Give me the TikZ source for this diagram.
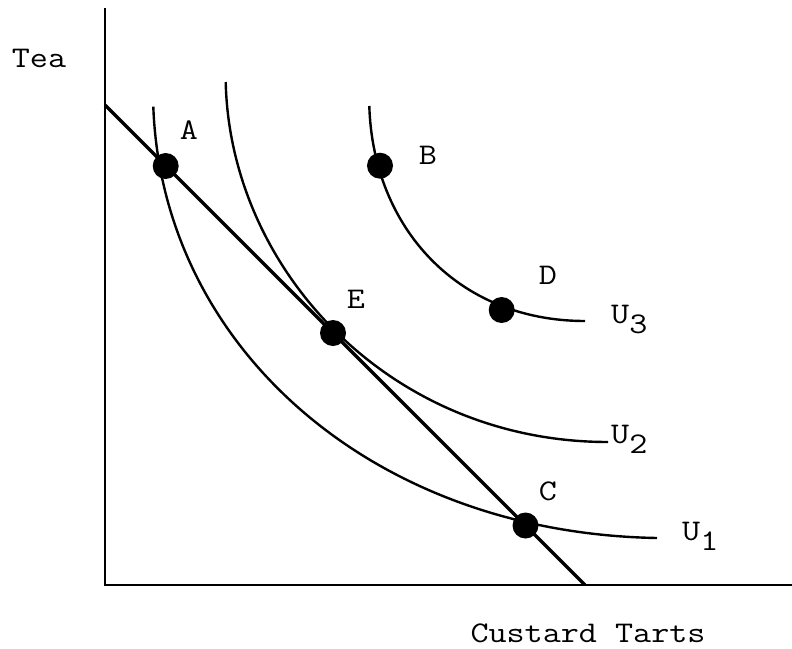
\documentclass[tikz,border=0pt]{standalone}
\usetikzlibrary{positioning}
\newcommand{\wide}[1]{\scalebox{1.17}[1]{#1}}
\newcommand{\ulabel}[1]{\wide{U\raisebox{-10pt}{#1}}}

\begin{document}
\begin{tikzpicture}[
  x=1pt,y=-1pt,
  axis/.style={line width=2.3pt},
  budget/.style={line width=3.5pt},
  indiff/.style={line width=2.4pt},
  bundle/.style={circle,fill=black,inner sep=0pt,minimum size=26pt},
  lbl/.style={font=\ttfamily\fontsize{30}{36}\selectfont,inner sep=0pt}
]
\useasboundingbox (0,0) rectangle (792,648);
% axes
\coordinate (ytop) at (105,8);
\coordinate (origin) at (105,585);
\coordinate (xend) at (792,585);
\draw[axis] (ytop) -- (origin) -- (xend);
\node[lbl] (tea) at (39,58) {\wide{Tea}};
\node[lbl] (tarts) at (588,633) {\wide{Custard Tarts}};
% budget line
\coordinate (bstart) at (105,105);
\coordinate (bend) at (585,585);
\draw[budget] (bstart) -- (bend);
% indifference curves
\coordinate (u1top) at (153.3,106.7);
\coordinate (u1end) at (657,538);
\coordinate (u2top) at (225.7,82);
\coordinate (u2end) at (608,442);
\coordinate (u3top) at (369.3,106);
\coordinate (u3end) at (585,321);
\draw[indiff] (u1top) .. controls (162,345) and (370,533) .. (u1end);
\draw[indiff] (u2top) .. controls (230,270) and (390,442) .. (u2end);
\draw[indiff] (u3top) .. controls (373,228) and (458,321) .. (u3end);
\node[lbl,anchor=base west] (u3) at (611,323) {\ulabel{3}};
\node[lbl,anchor=base west] (u2) at (611,443) {\ulabel{2}};
\node[lbl,anchor=base west] (u1) at (682,540) {\ulabel{1}};
% bundles
\node[bundle] (a) at (165.7,166) {};
\node[bundle] (b) at (380,165.7) {};
\node[bundle] (d) at (501.7,310) {};
\node[bundle] (e) at (333,333) {};
\node[bundle] (c) at (525.5,525.5) {};
\node[lbl] (la) at (189,130) {\wide{A}};
\node[lbl] (lb) at (428,155) {\wide{B}};
\node[lbl] (ld) at (548,275) {\wide{D}};
\node[lbl] (le) at (356,299) {\wide{E}};
\node[lbl] (lc) at (548,491) {\wide{C}};
\end{tikzpicture}
\end{document}
